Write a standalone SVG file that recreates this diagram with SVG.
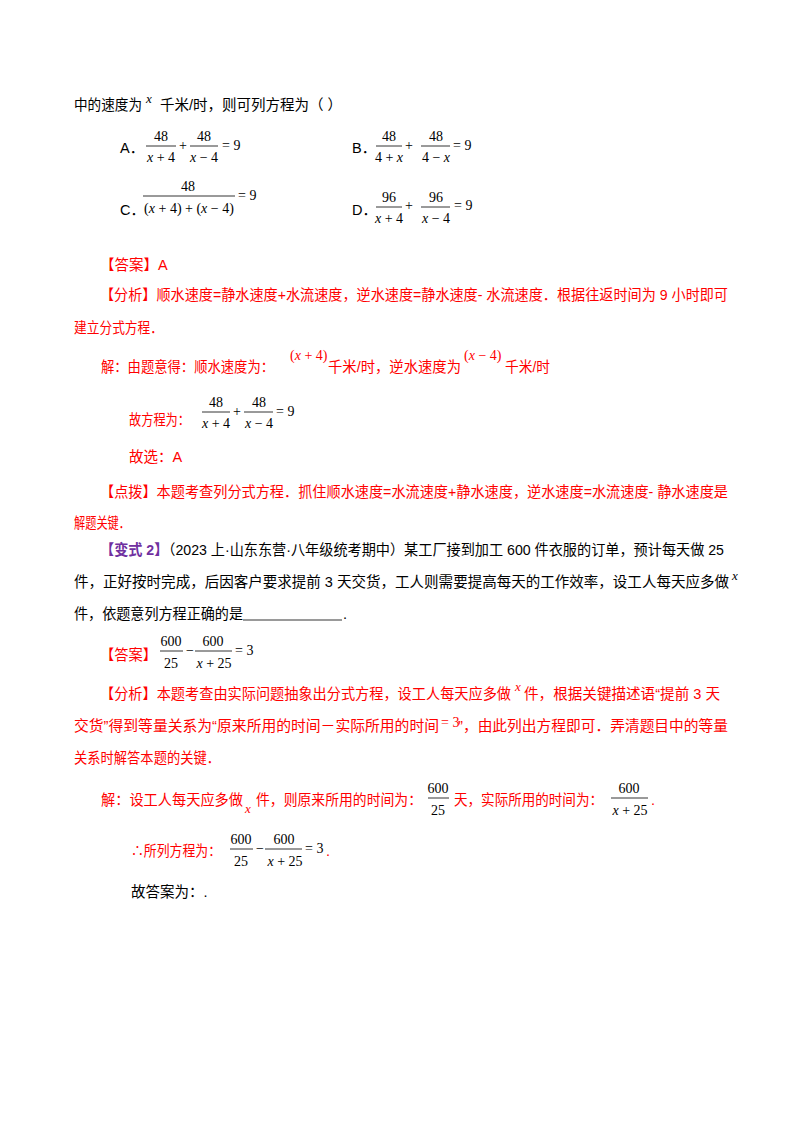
<svg xmlns="http://www.w3.org/2000/svg" width="800" height="1132" viewBox="0 0 800 1132">
<style>
text{font-family:"Liberation Sans","Noto Sans CJK SC",sans-serif;font-size:14.5px;fill:#000}
.r{fill:#f00}
.p{fill:#7030a0;font-weight:bold}
.m{font-family:"Liberation Serif","Noto Sans CJK SC",serif;font-size:14px}
.mi{font-family:"Liberation Serif",serif;font-size:13px;font-style:italic}
.c{text-anchor:middle}
line{stroke:#000;stroke-width:0.8}
</style>
<rect width="800" height="1132" fill="#fff"/>
<!-- question -->
<text x="74" y="110" textLength="68" lengthAdjust="spacingAndGlyphs">中的速度为</text>
<text class="mi" x="146" y="103">x</text>
<text x="160" y="110">千米/时，则可列方程为（    ）</text>
<text x="120" y="153">A．</text>
<text class="m c" x="161" y="141">48</text><line x1="146" y1="146" x2="176" y2="146"/><text class="m c" x="161" y="162"><tspan font-style="italic">x</tspan> + 4</text>
<text class="m" x="179" y="150">+</text>
<text class="m c" x="204" y="141">48</text><line x1="190" y1="146" x2="218" y2="146"/><text class="m c" x="204" y="162"><tspan font-style="italic">x</tspan> − 4</text>
<text class="m" x="222" y="150">= 9</text>
<text x="352" y="153">B．</text>
<text class="m c" x="389" y="141">48</text><line x1="376" y1="146" x2="402" y2="146"/><text class="m c" x="389" y="162">4 + <tspan font-style="italic">x</tspan></text>
<text class="m" x="405" y="150">+</text>
<text class="m c" x="436" y="141">48</text><line x1="421" y1="146" x2="450" y2="146"/><text class="m c" x="436" y="162">4 − <tspan font-style="italic">x</tspan></text>
<text class="m" x="453" y="150">= 9</text>
<text x="120" y="215">C．</text>
<text class="m c" x="188" y="191">48</text><line x1="143" y1="196" x2="235" y2="196"/><text class="m c" x="189" y="213">(<tspan font-style="italic">x</tspan> + 4) + (<tspan font-style="italic">x</tspan> − 4)</text>
<text class="m" x="238" y="200">= 9</text>
<text x="352" y="215">D．</text>
<text class="m c" x="389" y="202">96</text><line x1="376" y1="207" x2="402" y2="207"/><text class="m c" x="389" y="223"><tspan font-style="italic">x</tspan> + 4</text>
<text class="m" x="405" y="210">+</text>
<text class="m c" x="436" y="202">96</text><line x1="421" y1="207" x2="450" y2="207"/><text class="m c" x="436" y="223"><tspan font-style="italic">x</tspan> − 4</text>
<text class="m" x="454" y="210">= 9</text>
<!-- answer 1 -->
<text class="r" x="100" y="270">【答案】A</text>
<text class="r" x="100" y="300" textLength="628" lengthAdjust="spacingAndGlyphs">【分析】顺水速度=静水速度+水流速度，逆水速度=静水速度- 水流速度．根据往返时间为 9 小时即可</text>
<text class="r" x="74" y="333" textLength="89" lengthAdjust="spacingAndGlyphs">建立分式方程．</text>
<text class="r" x="101" y="372" textLength="173" lengthAdjust="spacingAndGlyphs">解：由题意得：顺水速度为：</text>
<text class="m r" x="290" y="360">(<tspan font-style="italic">x</tspan> + 4)</text>
<text class="r" x="328" y="372" textLength="133" lengthAdjust="spacingAndGlyphs">千米/时，逆水速度为</text>
<text class="m r" x="464" y="360">(<tspan font-style="italic">x</tspan> − 4)</text>
<text class="r" x="505" y="372" textLength="45" lengthAdjust="spacingAndGlyphs">千米/时</text>
<text class="r" x="129" y="425" textLength="61" lengthAdjust="spacingAndGlyphs">故方程为：</text>
<text class="m c" x="216" y="407">48</text><line x1="202" y1="412" x2="230" y2="412"/><text class="m c" x="216" y="428"><tspan font-style="italic">x</tspan> + 4</text>
<text class="m" x="233" y="416">+</text>
<text class="m c" x="259" y="407">48</text><line x1="244" y1="412" x2="273" y2="412"/><text class="m c" x="259" y="428"><tspan font-style="italic">x</tspan> − 4</text>
<text class="m" x="276" y="416">= 9</text>
<text class="r" x="129" y="462">故选：A</text>
<text class="r" x="100" y="497" textLength="628" lengthAdjust="spacingAndGlyphs">【点拨】本题考查列分式方程．抓住顺水速度=水流速度+静水速度，逆水速度=水流速度- 静水速度是</text>
<text class="r" x="74" y="528" textLength="56" lengthAdjust="spacingAndGlyphs">解题关键．</text>
<!-- variant 2 -->
<text x="100" y="555" textLength="624" lengthAdjust="spacingAndGlyphs"><tspan class="p">【变式 2】</tspan>（2023 上·山东东营·八年级统考期中）某工厂接到加工 600 件衣服的订单，预计每天做 25</text>
<text x="74" y="587" textLength="655" lengthAdjust="spacingAndGlyphs">件，正好按时完成，后因客户要求提前 3 天交货，工人则需要提高每天的工作效率，设工人每天应多做</text>
<text class="mi" x="732" y="580">x</text>
<text x="74" y="619" textLength="169" lengthAdjust="spacingAndGlyphs">件，依题意列方程正确的是</text>
<line x1="243" y1="620" x2="342" y2="620"/>
<text x="343" y="619">.</text>
<text class="r" x="100" y="660" textLength="57" lengthAdjust="spacingAndGlyphs">【答案】</text>
<text class="m c" x="171" y="646">600</text><line x1="160" y1="651" x2="183" y2="651"/><text class="m c" x="171" y="668">25</text>
<text class="m" x="186" y="655">−</text>
<text class="m c" x="213" y="646">600</text><line x1="195" y1="651" x2="232" y2="651"/><text class="m c" x="214" y="668"><tspan font-style="italic">x</tspan> + 25</text>
<text class="m" x="235" y="655">= 3</text>
<text class="r" x="100" y="699" textLength="411" lengthAdjust="spacingAndGlyphs">【分析】本题考查由实际问题抽象出分式方程，设工人每天应多做</text>
<text class="mi r" x="515" y="691">x</text>
<text class="r" x="524" y="699" textLength="196" lengthAdjust="spacingAndGlyphs">件，根据关键描述语“提前 3 天</text>
<text class="r" x="74" y="731" textLength="365" lengthAdjust="spacingAndGlyphs">交货”得到等量关系为“原来所用的时间－实际所用的时间</text>
<text class="m r" x="441" y="727">= 3</text>
<text class="r" x="458" y="731" textLength="270" lengthAdjust="spacingAndGlyphs">”，由此列出方程即可．弄清题目中的等量</text>
<text class="r" x="74" y="763" textLength="146" lengthAdjust="spacingAndGlyphs">关系时解答本题的关键．</text>
<text class="r" x="101" y="805" textLength="142" lengthAdjust="spacingAndGlyphs">解：设工人每天应多做</text>
<text class="mi r" x="245" y="813">x</text>
<text class="r" x="256" y="805" textLength="166" lengthAdjust="spacingAndGlyphs">件，则原来所用的时间为：</text>
<text class="m c" x="438" y="793">600</text><line x1="428" y1="798" x2="449" y2="798"/><text class="m c" x="438" y="815">25</text>
<text class="r" x="454" y="805" textLength="149" lengthAdjust="spacingAndGlyphs">天，实际所用的时间为：</text>
<text class="m c" x="629" y="793">600</text><line x1="611" y1="798" x2="648" y2="798"/><text class="m c" x="630" y="815"><tspan font-style="italic">x</tspan> + 25</text>
<text class="r" x="651" y="805">.</text>
<text class="r" x="131" y="856" textLength="90" lengthAdjust="spacingAndGlyphs">∴所列方程为：</text>
<text class="m c" x="241" y="844">600</text><line x1="230" y1="849" x2="253" y2="849"/><text class="m c" x="241" y="866">25</text>
<text class="m" x="256" y="853">−</text>
<text class="m c" x="284" y="844">600</text><line x1="265" y1="849" x2="302" y2="849"/><text class="m c" x="285" y="866"><tspan font-style="italic">x</tspan> + 25</text>
<text class="m" x="305" y="853">= 3</text>
<text class="r" x="326" y="856">.</text>
<text x="131" y="897">故答案为：.</text>
</svg>
